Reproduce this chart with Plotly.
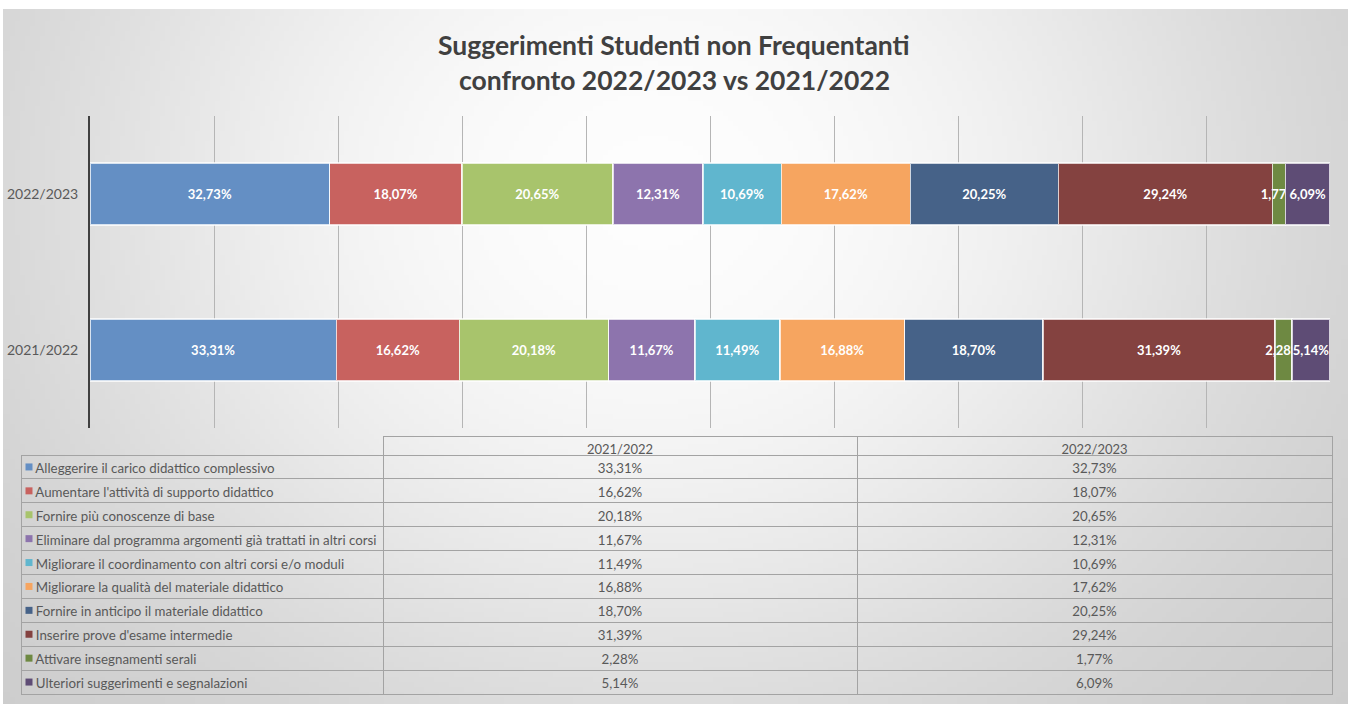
import base64
import math
import struct
import zlib

import plotly.graph_objects as go

# ---------------- data ----------------
years = ["2021/2022", "2022/2023"]
suggestions = [
    "Alleggerire il carico didattico complessivo",
    "Aumentare l'attività di supporto didattico",
    "Fornire più conoscenze di base",
    "Eliminare dal programma argomenti già trattati in altri corsi",
    "Migliorare il coordinamento con altri corsi e/o moduli",
    "Migliorare la qualità del materiale didattico",
    "Fornire in anticipo il materiale didattico",
    "Inserire prove d'esame intermedie",
    "Attivare insegnamenti serali",
    "Ulteriori suggerimenti e segnalazioni",
]
values_2021 = [33.31, 16.62, 20.18, 11.67, 11.49, 16.88, 18.70, 31.39, 2.28, 5.14]
values_2022 = [32.73, 18.07, 20.65, 12.31, 10.69, 17.62, 20.25, 29.24, 1.77, 6.09]
colors = ["#648FC4", "#C8625F", "#A8C46C", "#8D74AD", "#60B6CE",
          "#F6A560", "#466288", "#844240", "#6E8942", "#5E4C75"]

title_line1 = "Suggerimenti Studenti non Frequentanti"
title_line2 = "confronto 2022/2023 vs 2021/2022"


def fmt(v):
    return f"{v:.2f}%".replace(".", ",")


# ---------------- background gradient (generated PNG) ----------------
W, H = 1348, 704


def gradient_png(w, h):
    rows = []
    for j in range(h):
        py = 9 + j * (695 / h)
        row = bytearray([0])
        for i in range(w):
            px = 3 + i * (1345 / w)
            d2 = ((px - 650) / 700) ** 2 + ((py - 190) / 600) ** 2
            v = int(round(253 - 52 * math.tanh(d2)))
            row.append(max(0, min(255, v)))
        rows.append(bytes(row))
    raw = b"".join(rows)

    def chunk(tag, data):
        c = struct.pack(">I", len(data)) + tag + data
        return c + struct.pack(">I", zlib.crc32(tag + data) & 0xFFFFFFFF)

    png = b"\x89PNG\r\n\x1a\n"
    png += chunk(b"IHDR", struct.pack(">IIBBBBB", w, h, 8, 0, 0, 0, 0))
    png += chunk(b"IDAT", zlib.compress(raw, 9))
    png += chunk(b"IEND", b"")
    return "data:image/png;base64," + base64.b64encode(png).decode()


bg_src = gradient_png(270, 140)

# ---------------- layout constants (pixels) ----------------
TABLE_TOP, HEADER_H, ROW_H = 436, 19, 23.9
TABLE_BODY_TOP = TABLE_TOP + HEADER_H
TABLE_BOTTOM = TABLE_BODY_TOP + ROW_H * len(suggestions)

# ---------------- figure ----------------
fig = go.Figure()

for k, name in enumerate(suggestions):
    vals = [values_2021[k], values_2022[k]]
    fig.add_trace(go.Bar(
        y=years,
        x=vals,
        name=name,
        orientation="h",
        marker=dict(color=colors[k], line=dict(color="rgba(255,255,255,0.75)", width=1.5)),
        text=[fmt(v) for v in vals],
        textposition="inside",
        insidetextanchor="middle",
        textangle=0,
        constraintext="none",
        textfont=dict(family="Lato", size=13, color="white", weight="bold"),
        hoverinfo="skip",
        showlegend=False,
    ))

# data table (non-breaking spaces keep each label on one line)
NBSP = "\u00a0"
label_cells = [NBSP * 2 + s.replace(" ", NBSP) for s in suggestions]
fig.add_trace(go.Table(
    domain=dict(x=[21 / W, 1332 / W], y=[0.0, 1 - TABLE_TOP / H]),
    columnwidth=[362, 474, 475],
    header=dict(
        values=["", years[0], years[1]],
        height=HEADER_H,
        align="center",
        fill=dict(color="rgba(0,0,0,0)"),
        line=dict(color=["rgba(0,0,0,0)", "#a3a3a3", "#a3a3a3"], width=1),
        font=dict(family="Lato", size=13, color="#595959"),
    ),
    cells=dict(
        values=[label_cells, [fmt(v) for v in values_2021], [fmt(v) for v in values_2022]],
        height=ROW_H,
        align=["left", "center", "center"],
        fill=dict(color="rgba(0,0,0,0)"),
        line=dict(color="#a3a3a3", width=1),
        font=dict(family="Lato", size=13.3, color="#595959"),
    ),
))

# legend keys of the table rows
fig.add_trace(go.Scatter(
    x=[0.5] * len(suggestions),
    y=suggestions,
    mode="markers",
    marker=dict(symbol="square", size=7, color=colors),
    xaxis="x2",
    yaxis="y2",
    hoverinfo="skip",
    showlegend=False,
))

fig.update_layout(
    width=W,
    height=H,
    margin=dict(l=0, r=0, t=0, b=0),
    paper_bgcolor="white",
    plot_bgcolor="rgba(0,0,0,0)",
    barmode="stack",
    barnorm="percent",
    bargap=0.6,
    font=dict(family="Lato", color="#595959"),
    xaxis=dict(
        domain=[90 / W, 1330 / W],
        range=[0, 100],
        dtick=10,
        showgrid=True,
        gridcolor="#b5b5b5",
        gridwidth=1,
        showticklabels=False,
        zeroline=False,
        showline=False,
        fixedrange=True,
    ),
    yaxis=dict(
        domain=[1 - 428 / H, 1 - 116 / H],
        categoryorder="array",
        categoryarray=years,
        showline=True,
        linecolor="#404040",
        linewidth=2,
        showgrid=False,
        ticks="",
        ticklabelstandoff=7,
        tickfont=dict(family="Lato", size=14, color="#595959"),
        fixedrange=True,
    ),
    xaxis2=dict(
        domain=[21 / W, 37 / W], range=[0, 1], visible=False, fixedrange=True,
        anchor="y2",
    ),
    yaxis2=dict(
        domain=[1 - TABLE_BOTTOM / H, 1 - TABLE_BODY_TOP / H],
        type="category",
        categoryorder="array",
        categoryarray=suggestions[::-1],
        range=[-0.5, len(suggestions) - 0.5],
        visible=False,
        fixedrange=True,
        anchor="x2",
    ),
    images=[dict(
        source=bg_src, xref="paper", yref="paper",
        x=3 / W, y=1 - 9 / H, sizex=1345 / W, sizey=695 / H,
        xanchor="left", yanchor="top", sizing="stretch", layer="below",
    )],
    annotations=[
        dict(text=title_line1, x=0.5, y=1 - 45 / H, xref="paper", yref="paper",
             xanchor="center", yanchor="middle", showarrow=False,
             font=dict(family="Lato", size=26.5, color="#404040", weight="bold")),
        dict(text=title_line2, x=0.5, y=1 - 80 / H, xref="paper", yref="paper",
             xanchor="center", yanchor="middle", showarrow=False,
             font=dict(family="Lato", size=26.5, color="#404040", weight="bold")),
    ],
)

fig.write_html(
    "out.html",
    config={"displayModeBar": False},
    post_script="document.body.style.margin='0';document.body.style.overflow='hidden';",
)
